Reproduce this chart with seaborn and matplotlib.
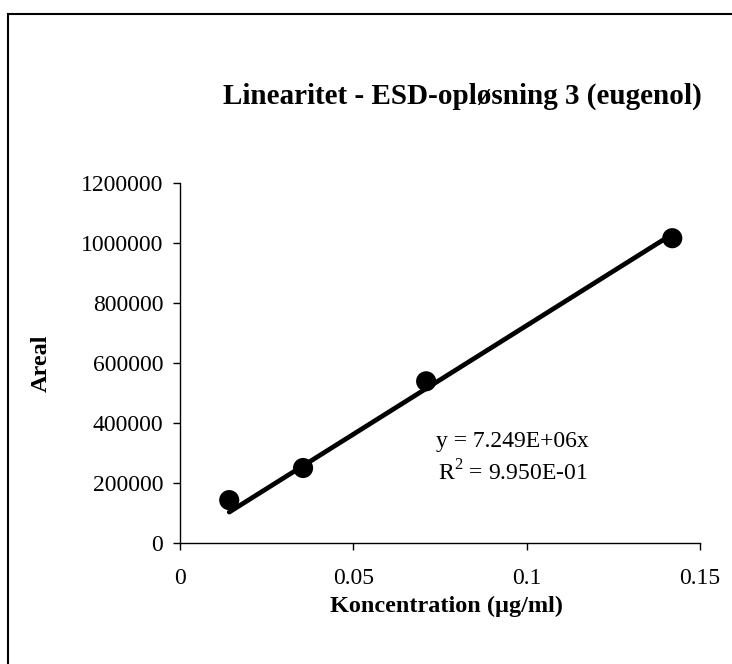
import numpy as np
import matplotlib
matplotlib.use("Agg")
import matplotlib.pyplot as plt
import seaborn as sns
from matplotlib.patches import Rectangle

# Data
konc = [0.0142, 0.0355, 0.071, 0.142]          # µg/ml
areal = [143000, 250000, 539000, 1016000]
slope = 7.249e6
r2 = 0.995
x_ticks = [0, 0.05, 0.1, 0.15]
y_ticks = [0, 200000, 400000, 600000, 800000, 1000000, 1200000]

sns.set_theme(style="white")
plt.rcParams['font.family'] = ['Liberation Serif', 'DejaVu Serif']
plt.rcParams['mathtext.fontset'] = 'custom'
plt.rcParams['mathtext.rm'] = 'Liberation Serif'
plt.rcParams['text.color'] = 'black'
plt.rcParams['axes.labelcolor'] = 'black'

fig = plt.figure(figsize=(7.32, 6.64), dpi=100)
ax = fig.add_axes([180 / 732, 121 / 664, 520 / 732, 360 / 664])

# trendline through origin, drawn over the data range
fit_y = [slope * x for x in konc]
sns.lineplot(x=konc, y=fit_y, ax=ax, color="black", linewidth=3.4, zorder=2)
sns.scatterplot(x=konc, y=areal, ax=ax, color="black", s=210, edgecolor="none", zorder=3)

ax.set_xlim(0, 0.15)
ax.set_ylim(0, 1200000)
ax.set_xticks(x_ticks)
ax.set_xticklabels(["0", "0.05", "0.1", "0.15"])
ax.set_yticks(y_ticks)
ax.set_yticklabels([str(v) for v in y_ticks])
ax.tick_params(axis="both", direction="out", length=5, width=1, color="black",
               labelsize=17, labelcolor="black", left=True, bottom=True)
ax.tick_params(axis="y", pad=7)
ax.tick_params(axis="x", pad=13)

sns.despine(ax=ax)
for side in ["left", "bottom"]:
    ax.spines[side].set_color("black")
    ax.spines[side].set_linewidth(1)

ax.set_xlabel("Koncentration (µg/ml)", fontsize=17.5, fontweight="bold")
ax.set_ylabel("Areal", fontsize=17.5, fontweight="bold")
ax.xaxis.set_label_coords((446 - 180) / 520, -(606 - 543) / 360)
ax.yaxis.set_label_coords(-(180 - 41) / 520, 0.5)
ax.xaxis.label.set_va("center")
ax.yaxis.label.set_va("center")

fig.text(462 / 732, 1 - 96 / 664, "Linearitet - ESD-opløsning 3 (eugenol)",
         ha="center", va="center", fontsize=21, fontweight="bold")

ax.text(0.64, 0.283, f"y = {slope:.3E}x", transform=ax.transAxes,
        ha="center", va="center", fontsize=17)
ax.text(0.64, 0.195, r"R$^2$ = " + f"{r2:.3E}", transform=ax.transAxes,
        ha="center", va="center", fontsize=17)

# outer chart frame (only left and top edges are visible in the reference)
fig.patches.append(Rectangle((8 / 732, -0.1), 1.2, 0.1 + 650 / 664, transform=fig.transFigure,
                             fill=False, edgecolor="black", linewidth=1.5))

fig.savefig("out.png", dpi=100)
